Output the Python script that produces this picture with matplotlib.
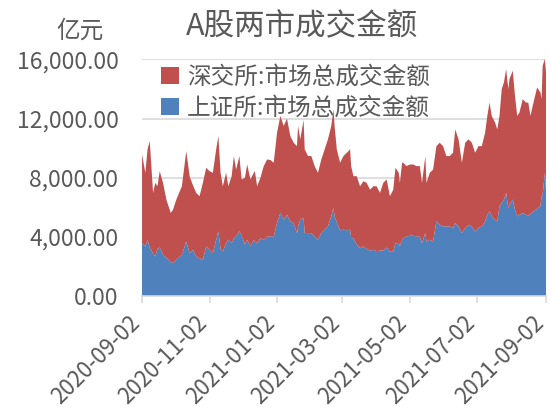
import matplotlib
matplotlib.use("Agg")
import matplotlib.pyplot as plt
import matplotlib.ticker as mticker
from matplotlib.patches import Patch
from matplotlib.transforms import ScaledTranslation
import pandas as pd

plt.rcParams['font.family'] = ['Noto Sans CJK SC', 'DejaVu Sans']

start_date = "2020-09-02"
end_date = "2021-09-02"
x_tick_labels = ["2020-09-02", "2020-11-02", "2021-01-02", "2021-03-02",
                 "2021-05-02", "2021-07-02", "2021-09-02"]
# days since 2020-09-02 for each sampled trading day
day_offsets = [0, 3, 5, 7, 10, 12, 14, 16, 19, 22, 26, 28, 31, 36, 40, 43, 46, 49, 52, 55,
               58, 61, 64, 67, 69, 71, 73, 76, 78, 81, 83, 85, 88, 90, 93, 95, 98, 101, 102, 104,
               107, 110, 113, 116, 119, 122, 125, 128, 131, 134, 137, 140, 141, 143, 146, 147, 150, 153, 156, 159,
               162, 165, 168, 171, 173, 174, 176, 179, 182, 185, 188, 189, 191, 194, 197, 200, 203, 206, 209, 212,
               215, 218, 221, 224, 227, 229, 232, 233, 235, 236, 239, 242, 245, 248, 251, 253, 256, 257, 260, 263,
               266, 269, 272, 275, 278, 281, 283, 286, 289, 292, 295, 298, 301, 304, 307, 310, 312, 314, 316, 319,
               321, 323, 325, 327, 329, 331, 332, 335, 337, 339, 341, 344, 347, 349, 351, 353, 357, 360, 361, 362,
               364, 365]

# 上证所 (亿元)
sh_values = [3590, 3370, 3820, 3300, 2910, 2690, 3200, 3300, 2800, 2600, 2300, 2240, 2460, 2800, 3700, 2910, 3140, 2690, 2580, 2460,
             3370, 3140, 2910, 3820, 4380, 3200, 3030, 3590, 3820, 3590, 3900, 4040, 4400, 4100, 3500, 3820, 3370, 3820, 3700, 3590,
             3930, 3820, 4040, 4040, 4040, 4950, 5630, 5170, 5510, 5060, 4950, 4270, 4700, 5170, 5280, 4270, 4270, 4270, 4040, 3820,
             4270, 4500, 4720, 5400, 5970, 5400, 5000, 4450, 4500, 4450, 4500, 3930, 3930, 3500, 3250, 3370, 3200, 3080, 3140, 3050,
             3080, 3100, 3300, 3000, 3030, 3590, 3590, 3400, 3800, 3930, 4040, 4090, 4090, 4040, 4040, 3590, 4270, 3700, 3820, 3700,
             5060, 4830, 4720, 4720, 4720, 4610, 4950, 4720, 4270, 4610, 4830, 4720, 4380, 4610, 4720, 5060, 5500, 5740, 5400, 5170,
             5060, 6080, 6300, 6530, 6980, 5960, 6200, 6530, 5850, 5400, 5500, 5630, 5510, 5460, 5550, 5700, 5900, 6100, 6760, 6900,
             8340, 7200]

# 深交所 (亿元)
sz_values = [5990, 4970, 6100, 7180, 4070, 4970, 4230, 5150, 4860, 3930, 3330, 3610, 4070, 4630, 6100, 5200, 4360, 4290, 4180, 5200,
             5310, 5310, 5430, 6100, 6440, 5140, 4400, 4750, 3610, 4520, 5570, 4520, 5070, 3790, 4500, 5080, 4520, 4520, 4750, 3840,
             4070, 4970, 5200, 5160, 4980, 6100, 6550, 6330, 6490, 5760, 5420, 5870, 6800, 5430, 6620, 5650, 5200, 5200, 4750, 4520,
             4970, 5420, 5880, 6100, 6660, 6100, 4920, 4570, 4970, 5240, 5420, 4860, 4180, 4610, 4180, 4400, 4460, 4120, 4290, 4380,
             3900, 4560, 4590, 3760, 4170, 5090, 4750, 4260, 5220, 5090, 4750, 4810, 4810, 4750, 4750, 4070, 5200, 3960, 4520, 4860,
             5080, 5540, 5420, 4750, 4750, 5080, 6320, 5880, 4750, 5760, 5770, 5650, 5310, 5530, 5420, 5990, 6680, 7340, 6780, 6560,
             6210, 6100, 7690, 7910, 8360, 8030, 8470, 8700, 7680, 6780, 6900, 7680, 7570, 7620, 6630, 7160, 8200, 7660, 6550, 8670,
             7680, 7920]

series_names = ["深交所:市场总成交金额", "上证所:市场总成交金额"]
title_text = "A股两市成交金额"
unit_text = "亿元"
y_ticks = [0, 4000, 8000, 12000, 16000]

dates = pd.Timestamp(start_date) + pd.to_timedelta(day_offsets, unit="D")

RED = "#C0504D"
BLUE = "#4F81BD"
GRAY = "#595959"

fig = plt.figure(figsize=(5.5, 4.16), dpi=100)
ax = fig.add_axes([0.2582, 0.2877, 0.7345, 0.5697])

ax.stackplot(dates, sh_values, sz_values, colors=[BLUE, RED], linewidth=0, zorder=2)

ax.set_xlim(pd.Timestamp(start_date), pd.Timestamp(end_date))
ax.set_ylim(0, 16000)
ax.set_yticks(y_ticks)
ax.yaxis.set_major_formatter(mticker.FuncFormatter(lambda v, p: f"{v:,.2f}"))
ax.grid(axis="y", color="#D9D9D9", linewidth=1.2, zorder=1)
ax.set_axisbelow(True)

ax.set_xticks(pd.to_datetime(x_tick_labels))
ax.set_xticklabels(x_tick_labels)

for s in ["top", "right", "left"]:
    ax.spines[s].set_visible(False)
ax.spines["bottom"].set_color("#D9D9D9")
ax.spines["bottom"].set_linewidth(1.2)

ax.tick_params(axis="y", length=0, pad=17, labelsize=16.5, labelcolor=GRAY)
ax.tick_params(axis="x", length=5, width=1.2, color="#D9D9D9", pad=12, labelsize=16, labelcolor=GRAY)
shift = ScaledTranslation(-6 / 100, 0, fig.dpi_scale_trans)
for lab in ax.get_xticklabels():
    lab.set_rotation(45)
    lab.set_ha("right")
    lab.set_va("center")
    lab.set_rotation_mode("anchor")
    lab.set_transform(lab.get_transform() + shift)

handles = [Patch(facecolor=RED, edgecolor="none"), Patch(facecolor=BLUE, edgecolor="none")]
leg = fig.legend(handles, series_names, loc="upper left", bbox_to_anchor=(161 / 550, 1 - 66 / 416),
                 frameon=False, fontsize=17, labelcolor=GRAY, handlelength=0.75, handleheight=0.75,
                 handletextpad=0.35, labelspacing=0.32, borderaxespad=0, borderpad=0)

fig.text(302 / 550, 1 - 27 / 416, title_text, ha="center", va="center", fontsize=22, color=GRAY)
fig.text(80 / 550, 1 - 31 / 416, unit_text, ha="center", va="center", fontsize=17, color=GRAY)

fig.savefig("out.png", dpi=100)
